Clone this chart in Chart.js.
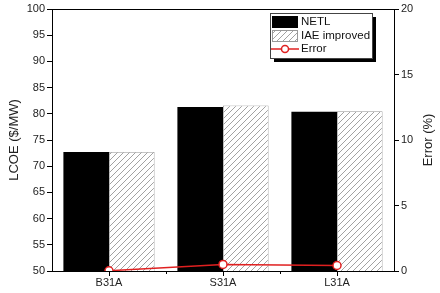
<!DOCTYPE html>
<html>
<head>
<meta charset="utf-8">
<script src="https://cdn.jsdelivr.net/npm/chart.js@4.4.0/dist/chart.umd.min.js"></script>
<style>
  html, body { margin: 0; padding: 0; background: #fff; }
  #wrap { width: 440px; height: 293px; }
</style>
</head>
<body>
<div id="wrap"><canvas id="chart" width="440" height="293"></canvas></div>
<script>
const categories = ['B31A', 'S31A', 'L31A'];
const netlValues = [72.7, 81.3, 80.4];
const iaeValues = [72.7, 81.6, 80.5];
const errorValues = [0.02, 0.5, 0.42];
const leftTicks = [50, 55, 60, 65, 70, 75, 80, 85, 90, 95, 100];
const rightTicks = [0, 5, 10, 15, 20];

const FONT = 'Liberation Sans, Arial, sans-serif';

function makeHatch() {
    const c = document.createElement('canvas');
    c.width = 6; c.height = 6;
    const g = c.getContext('2d');
    g.fillStyle = '#fff';
    g.fillRect(0, 0, 6, 6);
    g.strokeStyle = '#8a8a8a';
    g.lineWidth = 0.8;
    g.beginPath();
    g.moveTo(0, 6); g.lineTo(6, 0);
    g.moveTo(-3, 3); g.lineTo(3, -3);
    g.moveTo(3, 9); g.lineTo(9, 3);
    g.stroke();
    return g.createPattern(c, 'repeat');
}
const hatch = makeHatch();

function vText(ctx, text, x, y) {
    ctx.save();
    ctx.translate(x, y);
    ctx.rotate(-Math.PI / 2);
    ctx.textAlign = 'center';
    ctx.textBaseline = 'middle';
    ctx.fillText(text, 0, 0);
    ctx.restore();
}

// frame, minor x ticks, axis titles and the boxed legend
const decor = {
    id: 'decor',
    afterDraw(ch) {
        const ctx = ch.ctx;
        const a = ch.chartArea;
        ctx.save();
        ctx.strokeStyle = '#000';
        ctx.lineWidth = 1;
        ctx.beginPath();
        ctx.moveTo(a.left, a.top + 0.5);
        ctx.lineTo(a.right, a.top + 0.5);
        ctx.stroke();
        // minor ticks between categories
        const step = (a.right - a.left) / categories.length;
        ctx.beginPath();
        for (let i = 1; i < categories.length; i++) {
            const px = Math.round(a.left + step * i) + 0.5;
            ctx.moveTo(px, a.bottom);
            ctx.lineTo(px, a.bottom + 3);
        }
        ctx.stroke();

        // axis titles, both read bottom to top
        ctx.fillStyle = '#222';
        ctx.font = '13px ' + FONT;
        const midY = (a.top + a.bottom) / 2;
        vText(ctx, 'LCOE ($/MW)', 14, midY);
        vText(ctx, 'Error (%)', 428, midY);

        // legend
        const lx = 270, ly = 13, lw = 102, lh = 45;
        ctx.fillStyle = '#000';
        ctx.fillRect(lx + 4, ly + 4, lw, lh);
        ctx.fillStyle = '#fff';
        ctx.fillRect(lx, ly, lw, lh);
        ctx.strokeStyle = '#444';
        ctx.lineWidth = 1;
        ctx.strokeRect(lx + 0.5, ly + 0.5, lw, lh);

        ctx.fillStyle = '#000';
        ctx.fillRect(272, 16, 26, 12);
        ctx.fillStyle = hatch;
        ctx.fillRect(272, 30, 26, 12);
        ctx.strokeStyle = '#999';
        ctx.strokeRect(272.5, 30.5, 25, 11);

        ctx.strokeStyle = '#e02020';
        ctx.lineWidth = 1.5;
        ctx.beginPath();
        ctx.moveTo(271, 49); ctx.lineTo(299, 49);
        ctx.stroke();
        ctx.fillStyle = '#fff';
        ctx.beginPath();
        ctx.arc(285, 49, 3.5, 0, Math.PI * 2);
        ctx.fill();
        ctx.stroke();

        ctx.fillStyle = '#111';
        ctx.font = '11.5px ' + FONT;
        ctx.textBaseline = 'middle';
        ctx.fillText('NETL', 301, 22);
        ctx.fillText('IAE improved', 301, 36);
        ctx.fillText('Error', 301, 49);
        ctx.restore();
    }
};

new Chart(document.getElementById('chart'), {
    type: 'bar',
    data: {
        labels: categories,
        datasets: [
            {
                type: 'line',
                label: 'Error',
                data: errorValues,
                yAxisID: 'y1',
                borderColor: '#e02020',
                borderWidth: 1.5,
                pointRadius: 4,
                pointBorderWidth: 1.5,
                pointBackgroundColor: '#fff',
                pointBorderColor: '#e02020',
                order: 0
            },
            {
                label: 'NETL',
                data: netlValues,
                backgroundColor: '#000',
                borderColor: '#000',
                borderWidth: 0,
                yAxisID: 'y',
                order: 1
            },
            {
                label: 'IAE improved',
                data: iaeValues,
                backgroundColor: hatch,
                borderColor: '#999',
                borderWidth: 0.8,
                yAxisID: 'y',
                order: 1
            }
        ]
    },
    options: {
        responsive: false,
        animation: false,
        categoryPercentage: 0.8,
        barPercentage: 1.0,
        layout: { padding: { top: 9, left: 0, right: 0, bottom: 0 } },
        plugins: {
            legend: { display: false },
            tooltip: { enabled: false }
        },
        scales: {
            x: {
                offset: true,
                grid: { display: true, offset: false, drawOnChartArea: false, tickLength: 5, color: '#000' },
                border: { display: true, color: '#000', width: 1 },
                ticks: { color: '#222', font: { family: FONT, size: 11 }, padding: 0, maxRotation: 0 },
                afterFit(s) { s.height = 22; }
            },
            y: {
                position: 'left',
                min: 50, max: 100,
                afterBuildTicks(s) { s.ticks = leftTicks.map(v => ({ value: v })); },
                grid: { display: true, drawOnChartArea: false, tickLength: 5, color: '#000' },
                border: { display: true, color: '#000', width: 1 },
                ticks: { color: '#222', font: { family: FONT, size: 11 }, padding: 2 },
                afterFit(s) { s.width = 52; }
            },
            y1: {
                position: 'right',
                min: 0, max: 20,
                afterBuildTicks(s) { s.ticks = rightTicks.map(v => ({ value: v })); },
                grid: { display: true, drawOnChartArea: false, tickLength: 5, color: '#000' },
                border: { display: true, color: '#000', width: 1 },
                ticks: { color: '#222', font: { family: FONT, size: 11 }, padding: 2 },
                afterFit(s) { s.width = 46; }
            }
        }
    },
    plugins: [decor]
});
</script>
</body>
</html>
